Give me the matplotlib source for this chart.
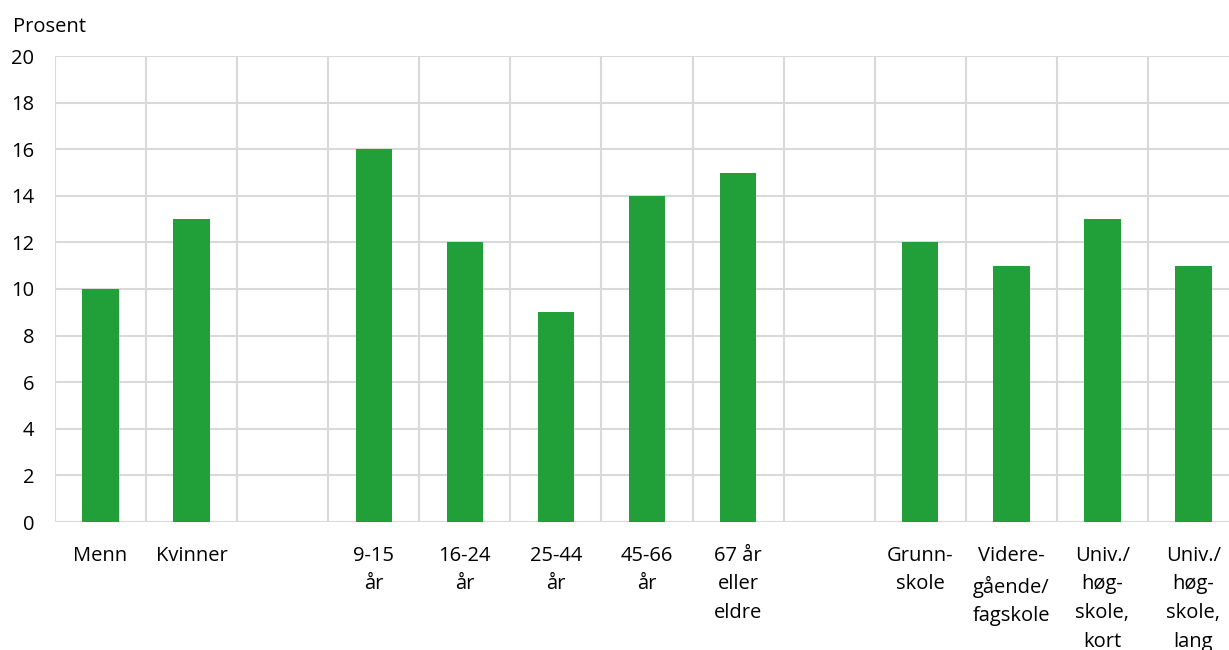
import matplotlib
matplotlib.use("Agg")
import matplotlib.pyplot as plt
import numpy as np

categories = ["Menn", "Kvinner", "", "9-15\når", "16-24\når", "25-44\når", "45-66\når",
              "67 år\neller\neldre", "", "Grunn-\nskole", "Videre-\ngående/\nfagskole",
              "Univ./\nhøg-\nskole,\nkort", "Univ./\nhøg-\nskole,\nlang"]
values = [10, 13, np.nan, 16, 12, 9, 14, 15, np.nan, 12, 11, 13, 11]
yticks = [0, 2, 4, 6, 8, 10, 12, 14, 16, 18, 20]

plt.rcParams['font.family'] = ['Open Sans', 'DejaVu Sans']

fig = plt.figure(figsize=(12.29, 6.5), dpi=100)
ax = fig.add_axes([55/1229, 1-522/650, (1239-55)/1229, (522-56)/650])

x = np.arange(len(categories))
ax.bar(x, values, width=0.4, color="#21a03a", zorder=3)

ax.set_xlim(-0.5, len(categories)-0.5)
ax.set_ylim(0, 20)
ax.set_yticks(yticks)
ax.set_xticks(x)
ax.set_xticklabels(categories, fontsize=14.5, linespacing=1.58, va="top")
ax.set_xticks(np.arange(len(categories)+1)-0.5, minor=True)
ax.tick_params(axis="x", which="both", length=0, pad=17)
ax.tick_params(axis="y", length=0, pad=15, labelsize=14.5)
for lab in ax.get_yticklabels():
    lab.set_horizontalalignment("right")

ax.grid(axis="y", which="major", color="#d9d9d9", linewidth=1.5, zorder=0)
ax.grid(axis="x", which="minor", color="#d9d9d9", linewidth=1.5, zorder=0)
ax.grid(axis="x", which="major", visible=False)
for s in ax.spines.values():
    s.set_visible(False)

fig.text(13/1229, 1-27/650, "Prosent", fontsize=14.5, ha="left", va="center")

fig.savefig("out.png", dpi=100)
